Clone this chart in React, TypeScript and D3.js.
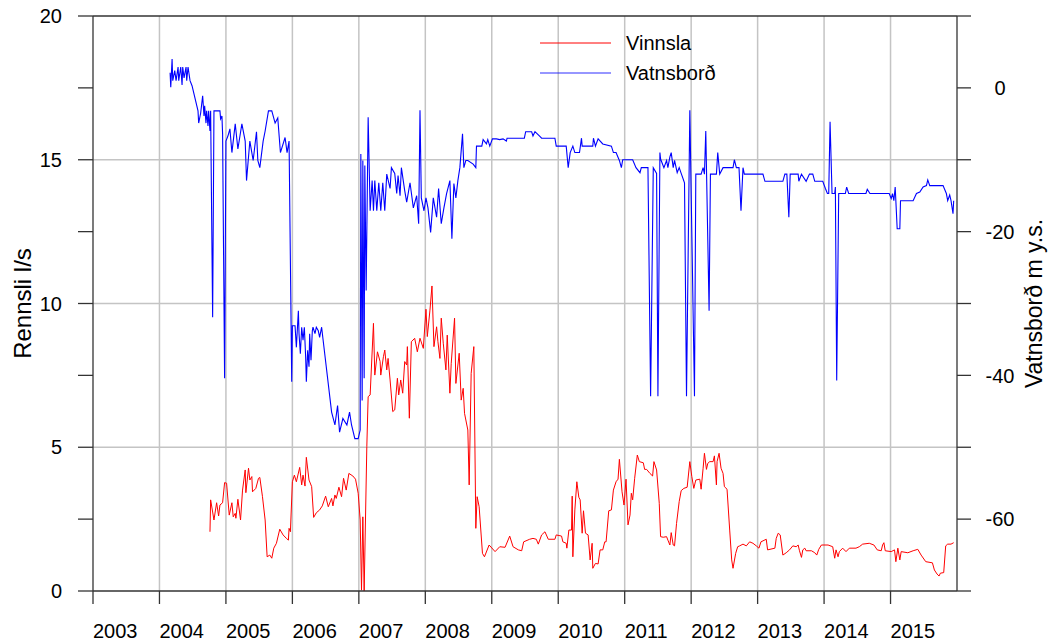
import React from 'react';
import * as d3 from 'd3';

// Vinnsla (l/s), left axis
const vinnsla: [number, number][] = [
  [2004.76, 2.06], [2004.77, 3.17], [2004.82, 2.47], [2004.86, 3.07], [2004.89, 2.61], [2004.91, 2.99],
  [2004.95, 3.07], [2004.98, 3.77], [2005.01, 3.75], [2005.05, 2.64], [2005.09, 3.07], [2005.11, 2.58],
  [2005.14, 2.7], [2005.15, 2.53], [2005.18, 3.19], [2005.22, 2.47], [2005.25, 3.51], [2005.29, 4.21],
  [2005.3, 3.42], [2005.34, 4.27], [2005.36, 3.86], [2005.39, 3.98], [2005.4, 3.45], [2005.45, 3.57],
  [2005.49, 3.92], [2005.51, 3.95], [2005.55, 3.28], [2005.59, 2.47], [2005.62, 1.19], [2005.66, 1.25],
  [2005.69, 1.14], [2005.72, 1.49], [2005.76, 1.66], [2005.81, 2.15], [2005.86, 1.95], [2005.91, 1.83],
  [2005.94, 1.77], [2005.95, 2.18], [2005.97, 2.06], [2006.0, 3.8], [2006.03, 4.03], [2006.06, 3.8],
  [2006.11, 4.3], [2006.14, 3.69], [2006.16, 4.03], [2006.19, 3.65], [2006.21, 4.65], [2006.25, 3.86],
  [2006.29, 3.63], [2006.32, 2.56], [2006.36, 2.72], [2006.41, 2.82], [2006.45, 2.96], [2006.5, 3.3],
  [2006.54, 2.93], [2006.59, 3.22], [2006.61, 2.96], [2006.64, 3.34], [2006.66, 3.22], [2006.7, 3.61],
  [2006.74, 3.28], [2006.77, 3.92], [2006.81, 3.51], [2006.85, 4.09], [2006.91, 4.0], [2006.95, 3.89],
  [2006.99, 3.4], [2007.02, 2.47], [2007.04, 0.03], [2007.06, 2.58], [2007.08, 0.0], [2007.12, 5.02],
  [2007.14, 6.76], [2007.17, 6.82], [2007.22, 9.31], [2007.24, 7.51], [2007.28, 8.32], [2007.32, 7.98],
  [2007.33, 7.51], [2007.37, 8.15], [2007.39, 8.38], [2007.42, 7.69], [2007.44, 8.09], [2007.47, 7.34],
  [2007.51, 6.24], [2007.54, 6.3], [2007.58, 7.4], [2007.6, 6.82], [2007.63, 7.34], [2007.66, 6.88],
  [2007.69, 7.98], [2007.72, 7.86], [2007.73, 8.5], [2007.76, 6.01], [2007.79, 8.67], [2007.84, 8.79],
  [2007.88, 8.32], [2007.92, 8.79], [2007.97, 8.44], [2008.01, 9.8], [2008.03, 8.85], [2008.07, 9.77],
  [2008.1, 10.61], [2008.13, 8.5], [2008.17, 9.19], [2008.19, 8.67], [2008.22, 8.09], [2008.24, 9.49],
  [2008.27, 8.62], [2008.31, 7.69], [2008.33, 8.9], [2008.37, 6.88], [2008.39, 7.92], [2008.44, 9.49],
  [2008.46, 7.22], [2008.51, 8.27], [2008.54, 6.64], [2008.57, 7.05], [2008.59, 6.18], [2008.64, 5.6],
  [2008.66, 3.69], [2008.69, 7.57], [2008.73, 8.5], [2008.76, 2.18], [2008.78, 3.28], [2008.81, 2.93],
  [2008.86, 1.31], [2008.89, 1.19], [2008.96, 1.6], [2009.05, 1.37], [2009.12, 1.54], [2009.2, 1.52],
  [2009.27, 1.91], [2009.32, 1.54], [2009.4, 1.43], [2009.45, 1.4], [2009.48, 1.71], [2009.57, 1.8],
  [2009.62, 1.83], [2009.67, 1.8], [2009.7, 1.63], [2009.75, 1.95], [2009.8, 2.06], [2009.85, 1.8],
  [2009.95, 1.8], [2009.97, 1.95], [2010.05, 1.91], [2010.07, 1.71], [2010.12, 1.66], [2010.13, 1.49],
  [2010.16, 2.12], [2010.2, 2.12], [2010.21, 3.3], [2010.22, 1.19], [2010.25, 2.82], [2010.28, 3.8],
  [2010.31, 3.26], [2010.33, 3.17], [2010.36, 2.01], [2010.38, 2.79], [2010.41, 2.01], [2010.45, 1.95],
  [2010.48, 1.08], [2010.51, 1.66], [2010.52, 0.79], [2010.56, 0.96], [2010.6, 0.94], [2010.63, 1.43],
  [2010.67, 1.43], [2010.7, 1.71], [2010.72, 1.71], [2010.76, 2.79], [2010.8, 2.82], [2010.83, 3.51],
  [2010.87, 3.8], [2010.9, 3.89], [2010.92, 4.58], [2010.96, 3.45], [2010.99, 2.99], [2011.02, 3.89],
  [2011.05, 2.3], [2011.08, 2.64], [2011.1, 3.4], [2011.12, 3.17], [2011.15, 3.92], [2011.19, 4.73],
  [2011.22, 4.5], [2011.28, 4.46], [2011.3, 4.23], [2011.33, 4.23], [2011.38, 4.09], [2011.42, 4.0],
  [2011.44, 4.5], [2011.48, 4.21], [2011.52, 3.05], [2011.54, 1.89], [2011.58, 1.87], [2011.63, 1.89],
  [2011.65, 1.77], [2011.68, 1.6], [2011.7, 2.03], [2011.73, 1.6], [2011.75, 1.57], [2011.78, 2.35],
  [2011.82, 3.11], [2011.85, 3.49], [2011.89, 3.57], [2011.94, 3.61], [2011.98, 4.5], [2012.01, 3.98],
  [2012.04, 3.57], [2012.07, 3.86], [2012.13, 3.89], [2012.15, 3.54], [2012.18, 4.27], [2012.2, 4.79],
  [2012.23, 4.23], [2012.25, 4.44], [2012.28, 4.5], [2012.33, 4.5], [2012.35, 4.7], [2012.38, 3.69],
  [2012.39, 4.5], [2012.42, 4.79], [2012.45, 4.27], [2012.48, 4.09], [2012.5, 3.63], [2012.54, 3.54],
  [2012.58, 2.12], [2012.61, 1.08], [2012.63, 0.79], [2012.67, 1.31], [2012.7, 1.54], [2012.73, 1.57],
  [2012.78, 1.63], [2012.83, 1.57], [2012.88, 1.71], [2012.93, 1.66], [2012.98, 1.57], [2013.02, 1.49],
  [2013.05, 1.71], [2013.13, 1.8], [2013.15, 1.43], [2013.26, 1.49], [2013.28, 1.83], [2013.31, 2.01],
  [2013.34, 1.95], [2013.38, 1.25], [2013.43, 1.33], [2013.48, 1.43], [2013.53, 1.57], [2013.58, 1.54],
  [2013.61, 1.6], [2013.63, 1.4], [2013.66, 1.17], [2013.68, 1.43], [2013.71, 1.49], [2013.73, 1.4],
  [2013.81, 1.4], [2013.86, 1.33], [2013.89, 1.25], [2013.92, 1.45], [2013.96, 1.6], [2014.06, 1.6],
  [2014.13, 1.54], [2014.16, 1.14], [2014.18, 1.43], [2014.21, 1.19], [2014.23, 1.37], [2014.28, 1.49],
  [2014.33, 1.37], [2014.38, 1.49], [2014.48, 1.49], [2014.53, 1.54], [2014.58, 1.63], [2014.68, 1.66],
  [2014.75, 1.6], [2014.8, 1.43], [2014.86, 1.4], [2014.88, 1.6], [2014.9, 1.68], [2014.92, 1.4],
  [2015.01, 1.37], [2015.06, 1.43], [2015.08, 1.02], [2015.11, 1.49], [2015.14, 1.08], [2015.16, 1.37],
  [2015.26, 1.33], [2015.34, 1.4], [2015.41, 1.45], [2015.46, 1.25], [2015.53, 1.02], [2015.63, 0.98],
  [2015.66, 0.73], [2015.7, 0.59], [2015.73, 0.52], [2015.75, 0.62], [2015.8, 0.64], [2015.83, 1.57],
  [2015.86, 1.63], [2015.91, 1.63], [2015.95, 1.68],
];

// Vatnsborð (m y.s.), right axis
const vatnsbord: [number, number][] = [
  [2004.16, 2.1], [2004.17, 0.1], [2004.19, 4.0], [2004.2, 1.0], [2004.23, 2.4], [2004.25, 1.0],
  [2004.28, 2.9], [2004.29, 1.0], [2004.32, 2.9], [2004.34, 0.4], [2004.35, 2.9], [2004.37, 1.4],
  [2004.4, 2.9], [2004.41, 1.0], [2004.43, 2.9], [2004.46, 1.0], [2004.49, 0.3], [2004.58, -3.2],
  [2004.59, -4.9], [2004.62, -3.5], [2004.65, -1.1], [2004.67, -3.9], [2004.68, -2.5], [2004.7, -4.9],
  [2004.71, -3.2], [2004.73, -5.3], [2004.74, -3.2], [2004.76, -6.0], [2004.77, -3.2], [2004.8, -31.9],
  [2004.82, -3.2], [2004.91, -3.2], [2004.92, -4.3], [2004.94, -3.9], [2004.95, -6.4], [2004.98, -40.4],
  [2005.0, -7.4], [2005.03, -6.7], [2005.06, -5.7], [2005.09, -9.0], [2005.14, -5.0], [2005.18, -8.5],
  [2005.24, -5.0], [2005.29, -7.4], [2005.31, -12.9], [2005.36, -7.4], [2005.41, -10.1], [2005.46, -6.1],
  [2005.48, -10.1], [2005.51, -11.1], [2005.56, -7.4], [2005.59, -6.0], [2005.64, -3.2], [2005.69, -3.2],
  [2005.74, -4.9], [2005.78, -4.2], [2005.82, -9.0], [2005.89, -6.9], [2005.92, -9.0], [2005.95, -7.4],
  [2005.99, -40.9], [2006.0, -33.1], [2006.04, -33.1], [2006.06, -36.1], [2006.09, -31.0], [2006.1, -34.2],
  [2006.12, -37.0], [2006.14, -33.3], [2006.16, -35.1], [2006.18, -33.3], [2006.2, -37.5], [2006.21, -40.9],
  [2006.23, -36.5], [2006.25, -38.8], [2006.26, -34.2], [2006.28, -37.9], [2006.3, -33.8], [2006.31, -33.3],
  [2006.34, -34.2], [2006.36, -33.3], [2006.39, -33.8], [2006.41, -34.7], [2006.44, -33.3], [2006.46, -34.9],
  [2006.59, -45.1],
  [2006.64, -46.9], [2006.68, -44.2], [2006.71, -47.9], [2006.76, -46.0], [2006.82, -46.9], [2006.86, -45.1],
  [2006.89, -46.9], [2006.94, -48.8], [2006.99, -48.8], [2007.02, -47.6], [2007.03, -9.2], [2007.05, -43.5],
  [2007.06, -10.1], [2007.08, -40.4], [2007.09, -10.8], [2007.11, -28.2], [2007.14, -4.1], [2007.17, -17.1],
  [2007.2, -12.9], [2007.22, -17.1], [2007.24, -12.9], [2007.27, -17.1], [2007.3, -13.2], [2007.33, -17.1],
  [2007.36, -13.2], [2007.39, -17.1], [2007.42, -12.0], [2007.47, -14.0], [2007.49, -11.1], [2007.54, -11.9],
  [2007.57, -14.7], [2007.59, -12.2], [2007.62, -15.0], [2007.64, -11.1], [2007.69, -14.3], [2007.72, -15.9],
  [2007.77, -13.2], [2007.82, -16.7], [2007.87, -15.0], [2007.9, -18.9], [2007.92, -3.1], [2007.94, -15.3],
  [2007.98, -17.1], [2008.01, -15.3], [2008.04, -16.7], [2008.08, -20.1], [2008.12, -15.3], [2008.17, -18.0],
  [2008.2, -14.0], [2008.24, -18.9], [2008.28, -16.7], [2008.32, -14.7], [2008.37, -12.9], [2008.4, -21.0],
  [2008.43, -13.3], [2008.46, -15.3], [2008.49, -12.9], [2008.52, -11.1], [2008.56, -6.4], [2008.58, -11.1],
  [2008.61, -10.1], [2008.64, -10.1], [2008.72, -10.6], [2008.76, -11.1], [2008.77, -8.1], [2008.85, -8.1],
  [2008.87, -7.2], [2008.92, -7.8], [2008.94, -7.2], [2008.97, -8.1], [2009.01, -7.1], [2009.07, -7.1],
  [2009.12, -7.2], [2009.17, -7.1], [2009.22, -7.4], [2009.23, -7.0], [2009.49, -7.0], [2009.51, -6.1],
  [2009.6, -6.1], [2009.62, -6.7], [2009.65, -6.1], [2009.72, -6.7], [2009.75, -7.0], [2009.95, -7.0],
  [2009.97, -8.1], [2010.12, -8.1], [2010.15, -11.1], [2010.18, -9.0], [2010.22, -8.1], [2010.25, -9.0],
  [2010.32, -9.0], [2010.35, -7.0], [2010.36, -8.1], [2010.52, -8.1], [2010.53, -7.0], [2010.56, -8.1],
  [2010.6, -7.1], [2010.67, -7.8], [2010.8, -8.1], [2010.83, -9.0], [2010.87, -9.0], [2010.92, -10.1],
  [2010.95, -11.1], [2010.97, -10.0], [2011.12, -10.0], [2011.17, -11.1], [2011.23, -11.8], [2011.25, -11.1],
  [2011.35, -11.1], [2011.39, -42.9], [2011.43, -11.1], [2011.48, -11.9], [2011.5, -42.9], [2011.53, -9.0],
  [2011.54, -9.9], [2011.59, -11.1], [2011.63, -10.1], [2011.65, -11.1], [2011.68, -9.6], [2011.7, -9.0],
  [2011.73, -11.1], [2011.75, -10.1], [2011.79, -11.8], [2011.82, -11.1], [2011.85, -11.9], [2011.9, -13.2],
  [2011.93, -42.9], [2011.98, -3.1], [2012.05, -42.9], [2012.07, -12.0], [2012.15, -12.0], [2012.18, -11.1],
  [2012.2, -12.0], [2012.22, -6.0], [2012.27, -31.0], [2012.29, -12.0], [2012.38, -12.0], [2012.4, -9.0],
  [2012.43, -12.0], [2012.48, -11.1], [2012.63, -11.1], [2012.65, -10.0], [2012.68, -11.1], [2012.72, -11.1],
  [2012.75, -17.1], [2012.78, -11.1], [2012.8, -12.0], [2013.08, -12.0], [2013.11, -13.0], [2013.38, -13.0],
  [2013.41, -12.0], [2013.44, -12.0], [2013.47, -18.0], [2013.49, -12.0], [2013.61, -12.0], [2013.62, -13.0],
  [2013.66, -12.0], [2013.73, -13.0], [2013.78, -12.0], [2013.83, -12.0], [2013.86, -13.0], [2013.98, -13.0],
  [2014.02, -14.0], [2014.05, -14.7], [2014.07, -14.7], [2014.09, -4.7], [2014.12, -14.7], [2014.16, -14.7],
  [2014.17, -13.8], [2014.19, -40.7], [2014.22, -14.7], [2014.32, -14.7], [2014.34, -13.8], [2014.37, -14.7],
  [2014.63, -14.7], [2014.65, -14.1], [2014.69, -14.7], [2014.98, -14.7], [2015.01, -15.4], [2015.03, -14.7],
  [2015.05, -15.7], [2015.07, -13.8], [2015.1, -19.6], [2015.14, -19.6], [2015.15, -15.7], [2015.34, -15.7],
  [2015.39, -14.7], [2015.44, -14.5], [2015.49, -13.8], [2015.54, -13.6], [2015.56, -12.8], [2015.59, -13.6],
  [2015.79, -13.6], [2015.84, -14.7], [2015.86, -15.7], [2015.89, -14.9], [2015.91, -15.7], [2015.94, -17.5],
  [2015.95, -15.7],
];

const yearTicks = [2003, 2004, 2005, 2006, 2007, 2008, 2009, 2010, 2011, 2012, 2013, 2014, 2015];
const leftTicks = [0, 2.5, 5, 7.5, 10, 12.5, 15, 17.5, 20];
const leftLabels = [0, 5, 10, 15, 20];
const rightTicks = [-70, -60, -50, -40, -30, -20, -10, 0, 10];
const rightLabels = [-60, -40, -20, 0];
const seriesNames = ['Vinnsla', 'Vatnsborð'];

const W = 1048;
const H = 644;
const margin = { top: 16, right: 91, bottom: 53, left: 93 };
const font = '"Liberation Sans", Arial, sans-serif';

export default function App() {
  const x0 = margin.left;
  const x1 = W - margin.right;
  const y0 = margin.top;
  const y1 = H - margin.bottom;

  const x = d3.scaleLinear().domain([2003, 2016]).range([x0, x1]);
  const yL = d3.scaleLinear().domain([0, 20]).range([y1, y0]);
  const yR = d3.scaleLinear().domain([-70, 10]).range([y1, y0]);

  const redLine = d3.line<[number, number]>().x((d) => x(d[0])).y((d) => yL(d[1]))(vinnsla) || '';
  const blueLine = d3.line<[number, number]>().x((d) => x(d[0])).y((d) => yR(d[1]))(vatnsbord) || '';

  const axisColor = '#333';
  const gridColor = '#c4c4c4';

  return (
    <svg
      width={W}
      height={H}
      style={{ position: 'absolute', left: 0, top: 0, background: '#fff' }}
      fontFamily={font}
    >
      {/* grid */}
      {yearTicks.slice(1).map((t) => (
        <line key={'gx' + t} x1={x(t)} x2={x(t)} y1={y0} y2={y1} stroke={gridColor} strokeWidth={1.5} />
      ))}
      {[5, 10, 15].map((t) => (
        <line key={'gy' + t} x1={x0} x2={x1} y1={yL(t)} y2={yL(t)} stroke={gridColor} strokeWidth={1.5} />
      ))}

      {/* series */}
      <path d={redLine} fill="none" stroke="#ff0000" strokeWidth={1} />
      <path d={blueLine} fill="none" stroke="#0000ff" strokeWidth={1.1} />

      {/* frame */}
      <line x1={x0} x2={x0} y1={y0} y2={y1} stroke={axisColor} strokeWidth={1.3} />
      <line x1={x1} x2={x1} y1={y0} y2={y1} stroke={axisColor} strokeWidth={1.3} />
      <line x1={x0} x2={x1} y1={y0} y2={y0} stroke={axisColor} strokeWidth={1.3} />
      <line x1={x0} x2={x1} y1={y1} y2={y1} stroke={axisColor} strokeWidth={1.3} />

      {/* left axis */}
      {leftTicks.map((t) => (
        <line key={'lt' + t} x1={x0 - 15} x2={x0} y1={yL(t)} y2={yL(t)} stroke={axisColor} strokeWidth={1.3} />
      ))}
      {leftLabels.map((t) => (
        <text key={'ll' + t} x={62} y={yL(t)} dy="0.36em" textAnchor="end" fontSize={20} fill="#000">
          {t}
        </text>
      ))}

      {/* right axis */}
      {rightTicks.map((t) => (
        <line key={'rt' + t} x1={x1} x2={x1 + 14} y1={yR(t)} y2={yR(t)} stroke={axisColor} strokeWidth={1.3} />
      ))}
      {rightLabels.map((t) => (
        <text key={'rl' + t} x={1000} y={yR(t)} dy="0.36em" textAnchor="middle" fontSize={20} fill="#000">
          {t}
        </text>
      ))}

      {/* bottom axis */}
      {yearTicks.map((t) => (
        <line key={'bt' + t} x1={x(t)} x2={x(t)} y1={y1} y2={y1 + 13} stroke={axisColor} strokeWidth={1.3} />
      ))}
      {yearTicks.map((t) => (
        <text key={'bl' + t} x={x(t)} y={638} textAnchor="start" fontSize={20} fill="#000">
          {t}
        </text>
      ))}

      {/* axis titles */}
      <text
        transform={`translate(22,${(y0 + y1) / 2}) rotate(-90)`}
        textAnchor="middle"
        dy="0.36em"
        fontSize={24}
        fill="#000"
      >
        Rennsli l/s
      </text>
      <text
        transform={`translate(1034,${(y0 + y1) / 2}) rotate(-90)`}
        textAnchor="middle"
        dy="0.36em"
        fontSize={23}
        fill="#000"
      >
        Vatnsborð m y.s.
      </text>

      {/* legend */}
      <line x1={540} x2={611} y1={43} y2={43} stroke="#ff0000" strokeWidth={1} />
      <text x={626} y={50} fontSize={20} fill="#000">{seriesNames[0]}</text>
      <line x1={540} x2={611} y1={73} y2={73} stroke="#0000ff" strokeOpacity={0.55} strokeWidth={1.5} />
      <text x={626} y={80} fontSize={20} fill="#000">{seriesNames[1]}</text>
    </svg>
  );
}
